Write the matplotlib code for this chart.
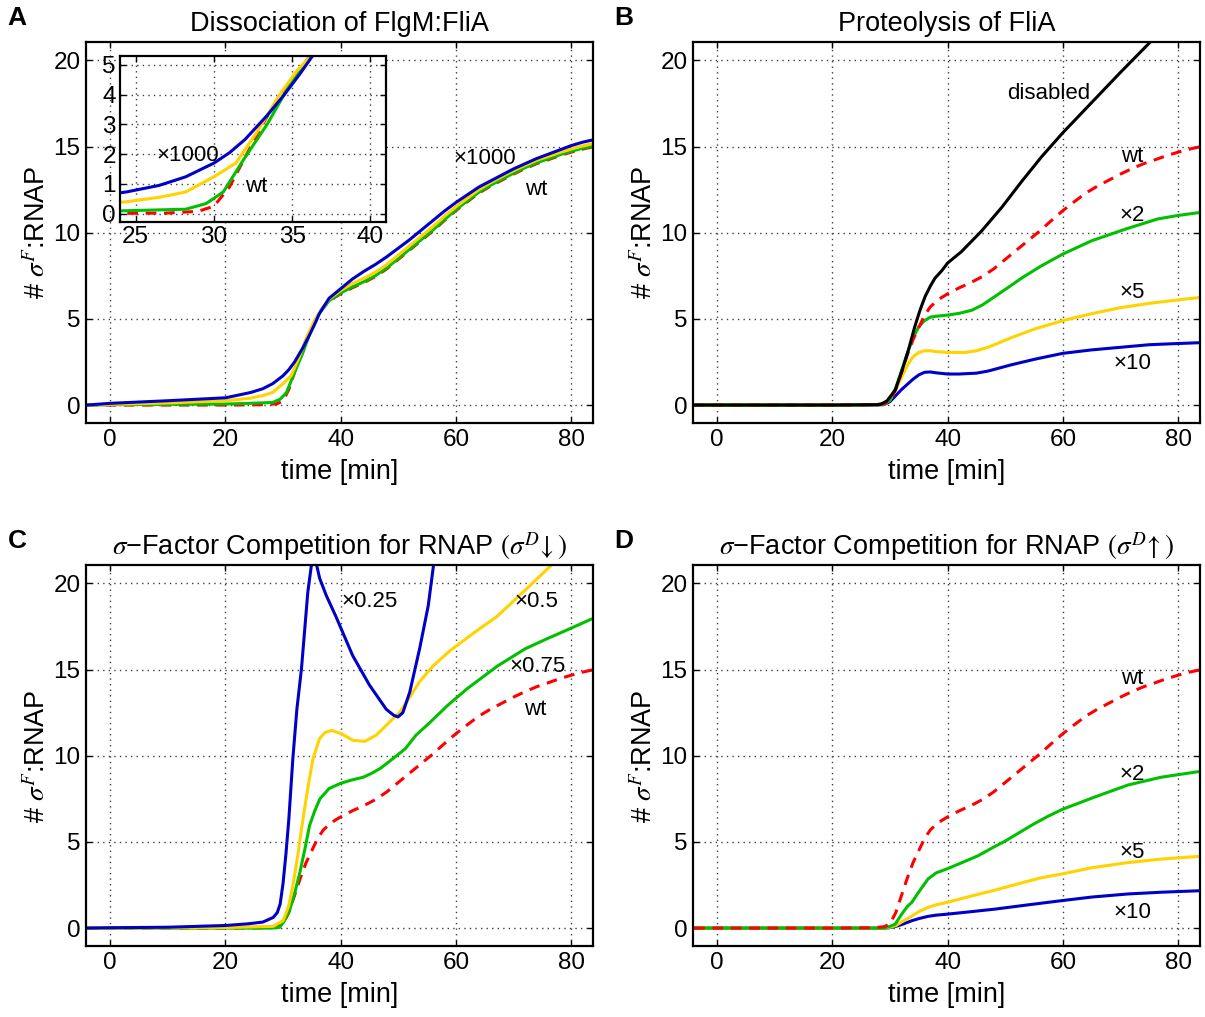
import matplotlib
matplotlib.use('Agg')
import matplotlib.pyplot as plt

plt.rcParams['font.family'] = ['Liberation Sans', 'DejaVu Sans']
plt.rcParams['mathtext.fontset'] = 'stix'

# ---- data (time in min, # sigmaF:RNAP) ----
# wild type, the same curve in every panel
wt_t = [-4, 20, 27, 29, 30, 31, 32, 33, 34, 35, 36, 37, 38, 39, 40, 42, 44, 46, 48, 50,
        52, 54, 56, 58, 60, 62, 64, 66, 68, 70, 72, 74, 76, 78, 80, 82, 84]
wt_y = [0, 0, 0.02, 0.08, 0.25, 0.9, 1.9, 2.9, 3.8, 4.5, 5.2, 5.7, 6.0, 6.25, 6.45, 6.8, 7.1, 7.45, 7.9, 8.45,
        9.0, 9.55, 10.1, 10.7, 11.28, 11.8, 12.3, 12.7, 13.05, 13.4, 13.72, 14.0, 14.23, 14.47, 14.67, 14.85, 15.0]

# A: dissociation of FlgM:FliA
a_blue_t = [-4, 0, 10, 20, 24.4, 26.5, 28.2, 30, 31, 32, 33.4, 34.5, 35.5, 36.3, 38, 40, 42, 44, 46, 48, 50,
            52, 54, 56, 58, 60, 62, 64, 66, 68, 70, 72, 74, 76, 78, 80, 82, 84]
a_blue_y = [0, 0.1, 0.25, 0.42, 0.73, 0.95, 1.24, 1.7, 2.05, 2.5, 3.3, 4.0, 4.7, 5.3, 6.2, 6.75, 7.3, 7.75, 8.15, 8.6, 9.1,
            9.6, 10.15, 10.7, 11.25, 11.75, 12.2, 12.65, 13.0, 13.35, 13.7, 14.0, 14.3, 14.55, 14.8, 15.05, 15.25, 15.4]
a_yel_t = [-4, 0, 10, 20, 24.4, 26.5, 28.2, 30, 31.4, 32.7, 34.2, 35.3, 36.2, 38, 40, 42, 44, 46, 48, 50,
           52, 54, 56, 58, 60, 62, 64, 66, 68, 70, 72, 74, 76, 78, 80, 82, 84]
a_yel_y = [0, 0.04, 0.12, 0.25, 0.4, 0.55, 0.73, 1.24, 1.7, 2.7, 4.0, 4.8, 5.3, 6.15, 6.65, 7.05, 7.35, 7.7, 8.15, 8.7,
           9.25, 9.8, 10.35, 10.95, 11.5, 12.0, 12.5, 12.9, 13.25, 13.6, 13.9, 14.2, 14.42, 14.65, 14.85, 15.03, 15.18]
a_grn_t = [-4, 0, 20, 24.4, 28.2, 29.5, 30.6, 32, 33.4, 34.7, 36, 38, 40, 42, 44, 46, 48, 50,
           52, 54, 56, 58, 60, 62, 64, 66, 68, 70, 72, 74, 76, 78, 80, 82, 84]
a_grn_y = [0, 0.02, 0.06, 0.1, 0.15, 0.34, 0.73, 1.9, 3.0, 4.2, 5.2, 6.05, 6.5, 6.85, 7.15, 7.5, 7.95, 8.5,
           9.05, 9.6, 10.15, 10.75, 11.33, 11.85, 12.35, 12.75, 13.1, 13.45, 13.77, 14.05, 14.28, 14.52, 14.72, 14.9, 15.05]

# B: proteolysis of FliA
b_dis_t = [-4, 20, 28, 28.5, 29.5, 30.9, 32, 33.2, 34.3, 35.2, 36.1, 37, 37.8, 39, 40, 42.4, 45.9, 49.4, 52.8, 56.3,
           60, 65, 70, 75, 77]
b_dis_y = [0, 0, 0.02, 0.06, 0.25, 0.87, 1.9, 3.2, 4.55, 5.5, 6.3, 6.9, 7.36, 7.8, 8.24, 8.9, 10.1, 11.47, 12.95, 14.4,
           15.8, 17.55, 19.3, 21.0, 21.7]
b_x2_t = [-4, 20, 28, 29, 30, 31, 32, 33, 34, 35, 36, 37, 38, 40, 42, 44.2, 46, 48, 50.5, 53, 56.3, 60, 65, 70.8, 76.5, 80, 84]
b_x2_y = [0, 0, 0.02, 0.05, 0.3, 1.0, 2.0, 3.0, 3.9, 4.55, 4.9, 5.1, 5.15, 5.22, 5.32, 5.5, 5.8, 6.25, 6.82, 7.4, 8.08, 8.76, 9.53, 10.2, 10.8, 11.0, 11.18]
b_x5_t = [-4, 20, 28, 29, 30, 31, 32, 33, 34, 35, 36, 37, 38, 40, 43, 45, 47, 49, 51, 55, 60, 65, 70, 75, 80, 84]
b_x5_y = [0, 0, 0.02, 0.05, 0.3, 0.9, 1.6, 2.3, 2.8, 3.05, 3.15, 3.15, 3.1, 3.05, 3.05, 3.15, 3.35, 3.62, 3.9, 4.4, 4.9, 5.3, 5.65, 5.9, 6.1, 6.25]
b_x10_t = [-4, 20, 28, 29, 30, 31, 32, 33, 34, 35, 36, 37, 38, 40, 42, 45, 47, 49, 51, 55, 60, 65, 70, 75, 80, 84]
b_x10_y = [0, 0, 0.01, 0.03, 0.2, 0.55, 0.9, 1.2, 1.5, 1.75, 1.9, 1.92, 1.87, 1.8, 1.8, 1.85, 1.97, 2.15, 2.33, 2.65, 3.0, 3.2, 3.35, 3.5, 3.57, 3.62]

# C: sigma-factor competition, sigmaD down
c_x025_t = [-4, 0, 10, 15, 20, 24, 26.5, 28.3, 29, 29.5, 30, 30.5, 31, 31.7, 32.4, 33.2, 34.3, 34.9, 35.3, 35.8,
            36.35, 37.5, 39.2, 42.1, 45, 47.9, 49.2, 49.95, 50.8, 52, 53.7, 55.2, 56.1, 57]
c_x025_y = [0, 0.02, 0.05, 0.1, 0.15, 0.25, 0.35, 0.62, 0.9, 1.4, 2.6, 4.3, 6.3, 9.83, 12.7, 15.06, 19.5, 21.0, 21.3, 21.1,
            20.3, 19.3, 18.06, 15.8, 14.1, 12.7, 12.35, 12.25, 12.5, 13.7, 16.2, 18.7, 21.0, 22.5]
c_x05_t = [-4, 20, 28.3, 30, 31, 31.7, 32.5, 33.2, 34, 34.6, 35.2, 36.35, 37.3, 38.4, 40.1, 42.1, 44.2, 46.2, 48.5,
           50.2, 52, 53.7, 56, 59, 63, 67.2, 72, 76.4, 78]
c_x05_y = [0, 0.03, 0.1, 0.43, 1.3, 2.46, 4.1, 5.75, 7.5, 8.7, 9.83, 11.0, 11.35, 11.47, 11.28, 10.9, 10.83, 11.2, 11.96,
           12.5, 13.4, 14.3, 15.2, 16.1, 17.1, 18.1, 19.6, 21.0, 21.5]
c_x075_t = [-4, 28, 29.4, 30.2, 31.2, 32, 32.9, 33.8, 34.6, 35.5, 36.4, 38, 40, 42, 43.9, 45.5, 46.8, 48, 49.7, 51.2,
            53.1, 55.4, 58.5, 62, 67.2, 72, 75.9, 80, 84]
c_x075_y = [0, 0, 0.04, 0.4, 1.1, 2.0, 3.2, 4.6, 5.95, 6.8, 7.5, 8.1, 8.4, 8.6, 8.75, 9.0, 9.25, 9.55, 10.0, 10.4,
            11.2, 11.9, 12.9, 13.9, 15.2, 16.2, 16.8, 17.4, 18.0]

# D: sigma-factor competition, sigmaD up
d_x2_t = [-4, 29, 30, 30.9, 32, 33, 33.8, 35, 36.6, 38, 40, 42.5, 45.3, 48, 50, 52.5, 55, 57.5, 60, 65.5, 71.3, 77, 84]
d_x2_y = [0, 0, 0.1, 0.23, 0.8, 1.25, 1.5, 2.1, 2.85, 3.2, 3.45, 3.8, 4.2, 4.7, 5.05, 5.55, 6.05, 6.5, 6.9, 7.6, 8.3, 8.75, 9.1]
d_x5_t = [-4, 29, 30, 31, 32, 33.8, 35, 36.6, 38, 40, 44, 48.2, 52, 56, 60, 65, 71.3, 77, 84]
d_x5_y = [0, 0, 0.05, 0.14, 0.35, 0.7, 0.95, 1.2, 1.35, 1.5, 1.85, 2.2, 2.55, 2.9, 3.15, 3.5, 3.8, 4.0, 4.17]
d_x10_t = [-4, 29, 30, 31, 32, 33.8, 35, 36.6, 38, 40, 44, 48.2, 54, 60, 65, 71.3, 77, 84]
d_x10_y = [0, 0, 0.03, 0.1, 0.2, 0.43, 0.55, 0.68, 0.75, 0.81, 0.95, 1.1, 1.35, 1.6, 1.8, 1.98, 2.08, 2.17]

BLUE = '#0000c8'
YEL = '#ffd200'
GRN = '#00c000'
RED = '#ff0000'
LW = 2.2
DASH = (0, (3.5, 2.5))
FS_T = 19.5     # titles / axis labels
FS_K = 17.5     # tick labels
FS_L = 16       # curve labels

fig = plt.figure(figsize=(12.05, 10.17), dpi=100)

W, H = 0.4207, 0.3742
axA = fig.add_axes([0.0714, 0.5841, W, H])
axB = fig.add_axes([0.5751, 0.5841, W, H])
axC = fig.add_axes([0.0714, 0.0698, W, H])
axD = fig.add_axes([0.5751, 0.0698, W, H])


def style(ax, xlim, ylim, xt, yt, labels=True):
    ax.set_xlim(xlim)
    ax.set_ylim(ylim)
    ax.set_xticks(xt)
    ax.set_yticks(yt)
    ax.grid(True, color='0.25', linestyle=(0, (1, 3)), linewidth=1.0)
    ax.tick_params(direction='in', length=4, width=1, top=True, right=True,
                   labelsize=FS_K, pad=4)
    for s in ax.spines.values():
        s.set_linewidth(1.6)
    if labels:
        ax.set_xlabel('time [min]', fontsize=FS_T, labelpad=6)
        ax.set_ylabel(r'# $\sigma^F$:RNAP', fontsize=FS_T, labelpad=2)


for ax in (axA, axB, axC, axD):
    style(ax, (-4.2, 83.8), (-1.04, 21.04), [0, 20, 40, 60, 80], [0, 5, 10, 15, 20])

# A
axA.plot(wt_t, wt_y, color=RED, lw=LW, ls=DASH)
axA.plot(a_grn_t, a_grn_y, color=GRN, lw=LW)
axA.plot(a_yel_t, a_yel_y, color=YEL, lw=LW)
axA.plot(a_blue_t, a_blue_y, color=BLUE, lw=LW)
axA.text(65.1, 14.3, '\u00d71000', fontsize=FS_L, ha='center', va='center')
axA.text(74, 12.5, 'wt', fontsize=FS_L, ha='center', va='center')
axA.set_title('Dissociation of FlgM:FliA', fontsize=FS_T, pad=8)

ins = fig.add_axes([0.0996, 0.7817, 0.2207, 0.1632])
style(ins, (24.0, 41.0), (-0.28, 5.3), [25, 30, 35, 40], [0, 1, 2, 3, 4, 5], labels=False)
ins.tick_params(pad=3)
ins.plot(wt_t, wt_y, color=RED, lw=LW, ls=DASH)
ins.plot(a_grn_t, a_grn_y, color=GRN, lw=LW)
ins.plot(a_yel_t, a_yel_y, color=YEL, lw=LW)
ins.plot(a_blue_t, a_blue_y, color=BLUE, lw=LW)
ins.text(28.3, 1.97, '\u00d71000', fontsize=FS_L, ha='center', va='center')
ins.text(32.7, 0.92, 'wt', fontsize=FS_L, ha='center', va='center')

# B
axB.plot(b_x10_t, b_x10_y, color=BLUE, lw=LW)
axB.plot(b_x5_t, b_x5_y, color=YEL, lw=LW)
axB.plot(b_x2_t, b_x2_y, color=GRN, lw=LW)
axB.plot(wt_t, wt_y, color=RED, lw=LW, ls=DASH)
axB.plot(b_dis_t, b_dis_y, color='black', lw=LW)
axB.text(57.6, 18.1, 'disabled', fontsize=FS_L, ha='center', va='center')
axB.text(72, 14.4, 'wt', fontsize=FS_L, ha='center', va='center')
axB.text(72, 11.0, '\u00d72', fontsize=FS_L, ha='center', va='center')
axB.text(72, 6.55, '\u00d75', fontsize=FS_L, ha='center', va='center')
axB.text(72, 2.4, '\u00d710', fontsize=FS_L, ha='center', va='center')
axB.set_title('Proteolysis of FliA', fontsize=FS_T, pad=8)

# C
axC.plot(wt_t, wt_y, color=RED, lw=LW, ls=DASH)
axC.plot(c_x075_t, c_x075_y, color=GRN, lw=LW)
axC.plot(c_x05_t, c_x05_y, color=YEL, lw=LW)
axC.plot(c_x025_t, c_x025_y, color=BLUE, lw=LW)
axC.text(45, 18.95, '\u00d70.25', fontsize=FS_L, ha='center', va='center')
axC.text(74, 18.95, '\u00d70.5', fontsize=FS_L, ha='center', va='center')
axC.text(74.1, 15.2, '\u00d70.75', fontsize=FS_L, ha='center', va='center')
axC.text(73.8, 12.7, 'wt', fontsize=FS_L, ha='center', va='center')
axC.set_title(r'$\sigma$' + '\u2212Factor Competition for RNAP ' + r'$(\sigma^D\!\downarrow)$',
              fontsize=FS_T, pad=8)

# D
axD.plot(d_x10_t, d_x10_y, color=BLUE, lw=LW)
axD.plot(d_x5_t, d_x5_y, color=YEL, lw=LW)
axD.plot(d_x2_t, d_x2_y, color=GRN, lw=LW)
axD.plot(wt_t, wt_y, color=RED, lw=LW, ls=DASH)
axD.text(72, 14.5, 'wt', fontsize=FS_L, ha='center', va='center')
axD.text(72, 8.9, '\u00d72', fontsize=FS_L, ha='center', va='center')
axD.text(72, 4.4, '\u00d75', fontsize=FS_L, ha='center', va='center')
axD.text(72, 0.93, '\u00d710', fontsize=FS_L, ha='center', va='center')
axD.set_title(r'$\sigma$' + '\u2212Factor Competition for RNAP ' + r'$(\sigma^D\!\uparrow)$',
              fontsize=FS_T, pad=8)

# panel letters
for lab, x, y in [('A', 17, 18), ('B', 624, 18), ('C', 17, 541), ('D', 624, 541)]:
    fig.text(x / 1205, 1 - y / 1017, lab, fontsize=19, fontweight='bold',
             ha='center', va='center')

fig.savefig('out.png', dpi=100)
